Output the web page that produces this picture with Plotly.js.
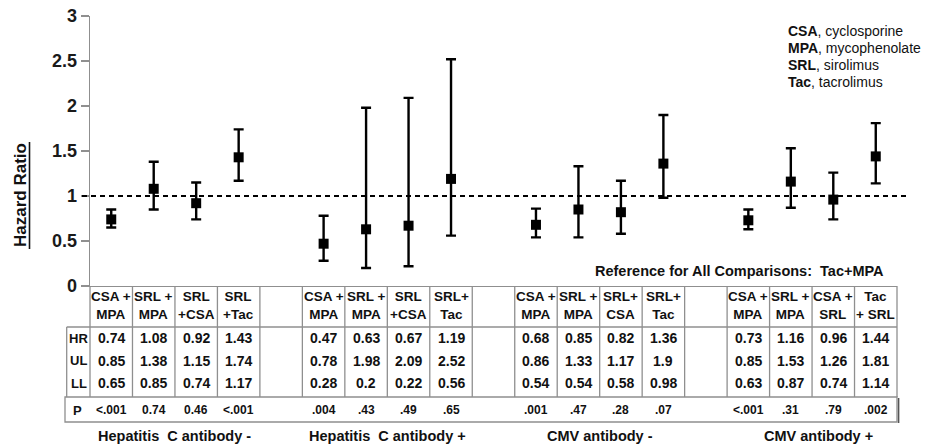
<!DOCTYPE html>
<html>
<head>
<meta charset="utf-8">
<script src="https://cdn.plot.ly/plotly-3.0.1.min.js"></script>
<style>html,body{margin:0;padding:0;background:#fff;}#chart{width:929px;height:447px;}</style>
</head>
<body>
<div id="chart"></div>
<script>
// ---------- data ----------
const groupLabels = ["Hepatitis  C antibody -", "Hepatitis  C antibody +", "CMV antibody -", "CMV antibody +"];
const headersG1 = ["CSA +<br>MPA", "SRL +<br>MPA", "SRL<br>+CSA", "SRL<br>+Tac"];
const headersG2 = ["CSA +<br>MPA", "SRL +<br>MPA", "SRL<br>+CSA", "SRL+<br>Tac"];
const headersG3 = ["CSA +<br>MPA", "SRL +<br>MPA", "SRL+<br>CSA", "SRL+<br>Tac"];
const headersG4 = ["CSA +<br>MPA", "SRL +<br>MPA", "CSA +<br>SRL", "Tac<br>+ SRL"];
const hrG1 = [0.74, 1.08, 0.92, 1.43];
const hrG2 = [0.47, 0.63, 0.67, 1.19];
const hrG3 = [0.68, 0.85, 0.82, 1.36];
const hrG4 = [0.73, 1.16, 0.96, 1.44];
const ulG1 = [0.85, 1.38, 1.15, 1.74];
const ulG2 = [0.78, 1.98, 2.09, 2.52];
const ulG3 = [0.86, 1.33, 1.17, 1.9];
const ulG4 = [0.85, 1.53, 1.26, 1.81];
const llG1 = [0.65, 0.85, 0.74, 1.17];
const llG2 = [0.28, 0.2, 0.22, 0.56];
const llG3 = [0.54, 0.54, 0.58, 0.98];
const llG4 = [0.63, 0.87, 0.74, 1.14];
const pG1 = ["<.001", "0.74", "0.46", "<.001"];
const pG2 = [".004", ".43", ".49", ".65"];
const pG3 = [".001", ".47", ".28", ".07"];
const pG4 = ["<.001", ".31", ".79", ".002"];
const rowLabels = ["HR", "UL", "LL"];
const legendAbbr = ["CSA", "MPA", "SRL", "Tac"];
const legendNames = ["cyclosporine", "mycophenolate", "sirolimus", "tacrolimus"];
const referenceText = "Reference for All Comparisons:  Tac+MPA";
const yTicks = [0, 0.5, 1, 1.5, 2, 2.5, 3];

const headers = [headersG1, headersG2, headersG3, headersG4];
const hr = [hrG1, hrG2, hrG3, hrG4];
const ul = [ulG1, ulG2, ulG3, ulG4];
const ll = [llG1, llG2, llG3, llG4];
const pv = [pG1, pG2, pG3, pG4];

// ---------- layout helpers ----------
const W = 929, H = 447;
const M = {l: 90, r: 32, t: 16, b: 161};
const PW = W - M.l - M.r, PH = H - M.t - M.b;
const NCOL = 19;
const px = p => (p - M.l) / PW;
const py = p => (H - M.b - p) / PH;
const FONT = "Liberation Sans, Arial, sans-serif";
const INK = "#111";
const GRID = "#8f8f8f";

const traces = [];
const shapes = [];
const ann = [];

hr.forEach((vals, g) => {
  const xs = vals.map((_, c) => g * 5 + c);
  traces.push({
    type: "scatter", mode: "markers", x: xs, y: vals,
    marker: {symbol: "square", size: 10, color: "#000"},
    error_y: {type: "data", symmetric: false,
      array: vals.map((v, i) => ul[g][i] - v),
      arrayminus: vals.map((v, i) => v - ll[g][i]),
      color: "#000", thickness: 2.4, width: 5},
    hoverinfo: "skip", cliponaxis: false
  });
});

// dashed reference line
shapes.push({type: "line", xref: "paper", yref: "y", x0: px(82), x1: px(906), y0: 1, y1: 1,
  line: {color: "#000", width: 2, dash: "5px,4px"}});

// table grid
for (let k = 0; k <= NCOL; k++) {
  shapes.push({type: "line", xref: "paper", yref: "paper", x0: k / NCOL, x1: k / NCOL,
    y0: py(286), y1: py(397), line: {color: GRID, width: 1.3}});
}
shapes.push({type: "line", xref: "paper", yref: "paper", x0: px(66.7), x1: 1, y0: py(327), y1: py(327), line: {color: GRID, width: 1.3}});
shapes.push({type: "line", xref: "paper", yref: "paper", x0: px(66.7), x1: px(66.7), y0: py(327), y1: py(397), line: {color: GRID, width: 1.3}});
shapes.push({type: "rect", xref: "paper", yref: "paper", x0: px(65), x1: 1, y0: py(397), y1: py(422), line: {color: GRID, width: 1.3}});
shapes.push({type: "line", xref: "paper", yref: "paper", x0: 1.002, x1: 1.002, y0: py(398), y1: py(423), line: {color: "#555", width: 1.5}});
// underline of y title
shapes.push({type: "line", xref: "paper", yref: "paper", x0: px(29.5), x1: px(29.5), y0: py(142), y1: py(249), line: {color: INK, width: 1.6}});

const rowY = [338, 360.5, 383];
headers.forEach((hs, g) => {
  hs.forEach((h, c) => {
    const x = g * 5 + c;
    ann.push({xref: "x", yref: "paper", x: x, y: py(306), text: "<b>" + h + "</b>", showarrow: false,
      font: {family: FONT, size: 13.5, color: INK}, xanchor: "center", yanchor: "middle"});
    [hr[g][c], ul[g][c], ll[g][c]].forEach((v, r) => {
      ann.push({xref: "x", yref: "paper", x: x, y: py(rowY[r]), text: "<b>" + String(v) + "</b>", showarrow: false,
        font: {family: FONT, size: 14, color: INK}, xanchor: "center", yanchor: "middle"});
    });
    ann.push({xref: "x", yref: "paper", x: x, y: py(410), text: "<b>" + pv[g][c] + "</b>", showarrow: false,
      font: {family: FONT, size: 12, color: INK}, xanchor: "center", yanchor: "middle"});
  });
  ann.push({xref: "x", yref: "paper", x: g * 5 + 1.5 + (g === 3 ? 0.15 : 0), y: py(436), text: "<b>" + groupLabels[g] + "</b>", showarrow: false,
    font: {family: FONT, size: 14.5, color: INK}, xanchor: "center", yanchor: "middle"});
});
rowLabels.forEach((t, r) => {
  ann.push({xref: "paper", yref: "paper", x: px(78.5), y: py(rowY[r]), text: "<b>" + t + "</b>", showarrow: false,
    font: {family: FONT, size: 13, color: INK}, xanchor: "center", yanchor: "middle"});
});
ann.push({xref: "paper", yref: "paper", x: px(77), y: py(410), text: "<b>P</b>", showarrow: false,
  font: {family: FONT, size: 13, color: INK}, xanchor: "center", yanchor: "middle"});

// legend of abbreviations
const legY = [31, 48, 65, 81.5];
legendAbbr.forEach((a, i) => {
  ann.push({xref: "paper", yref: "paper", x: px(786), y: py(legY[i]), text: "<b>" + a + "</b>, " + legendNames[i], showarrow: false,
    font: {family: FONT, size: 14, color: INK}, xanchor: "left", yanchor: "middle"});
});
ann.push({xref: "paper", yref: "paper", x: px(886), y: py(270.5), text: "<b>" + referenceText + "</b>", showarrow: false,
  font: {family: FONT, size: 14.5, color: INK}, xanchor: "right", yanchor: "middle"});
// y title
ann.push({xref: "paper", yref: "paper", x: px(20), y: py(195), text: "<b>Hazard Ratio</b>", textangle: -90, showarrow: false,
  font: {family: FONT, size: 17, color: INK}, xanchor: "center", yanchor: "middle"});

const layout = {
  width: W, height: H, margin: M, showlegend: false,
  paper_bgcolor: "#fff", plot_bgcolor: "#fff",
  xaxis: {range: [-0.5, 18.5], showticklabels: false, ticks: "", showgrid: false, zeroline: false,
    showline: true, linecolor: GRID, linewidth: 1.3, fixedrange: true},
  yaxis: {range: [0, 3], tickmode: "array", tickvals: yTicks, ticktext: yTicks.map(String),
    ticks: "outside", ticklen: 8, tickwidth: 1.3, tickcolor: GRID, showline: true, linecolor: GRID, linewidth: 1.3,
    showgrid: false, zeroline: false, fixedrange: true,
    tickfont: {family: FONT, size: 18, weight: "bold", color: "#1a1a1a"}},
  shapes: shapes, annotations: ann
};
Plotly.newPlot("chart", traces, layout, {displayModeBar: false, staticPlot: true});
</script>
</body>
</html>
